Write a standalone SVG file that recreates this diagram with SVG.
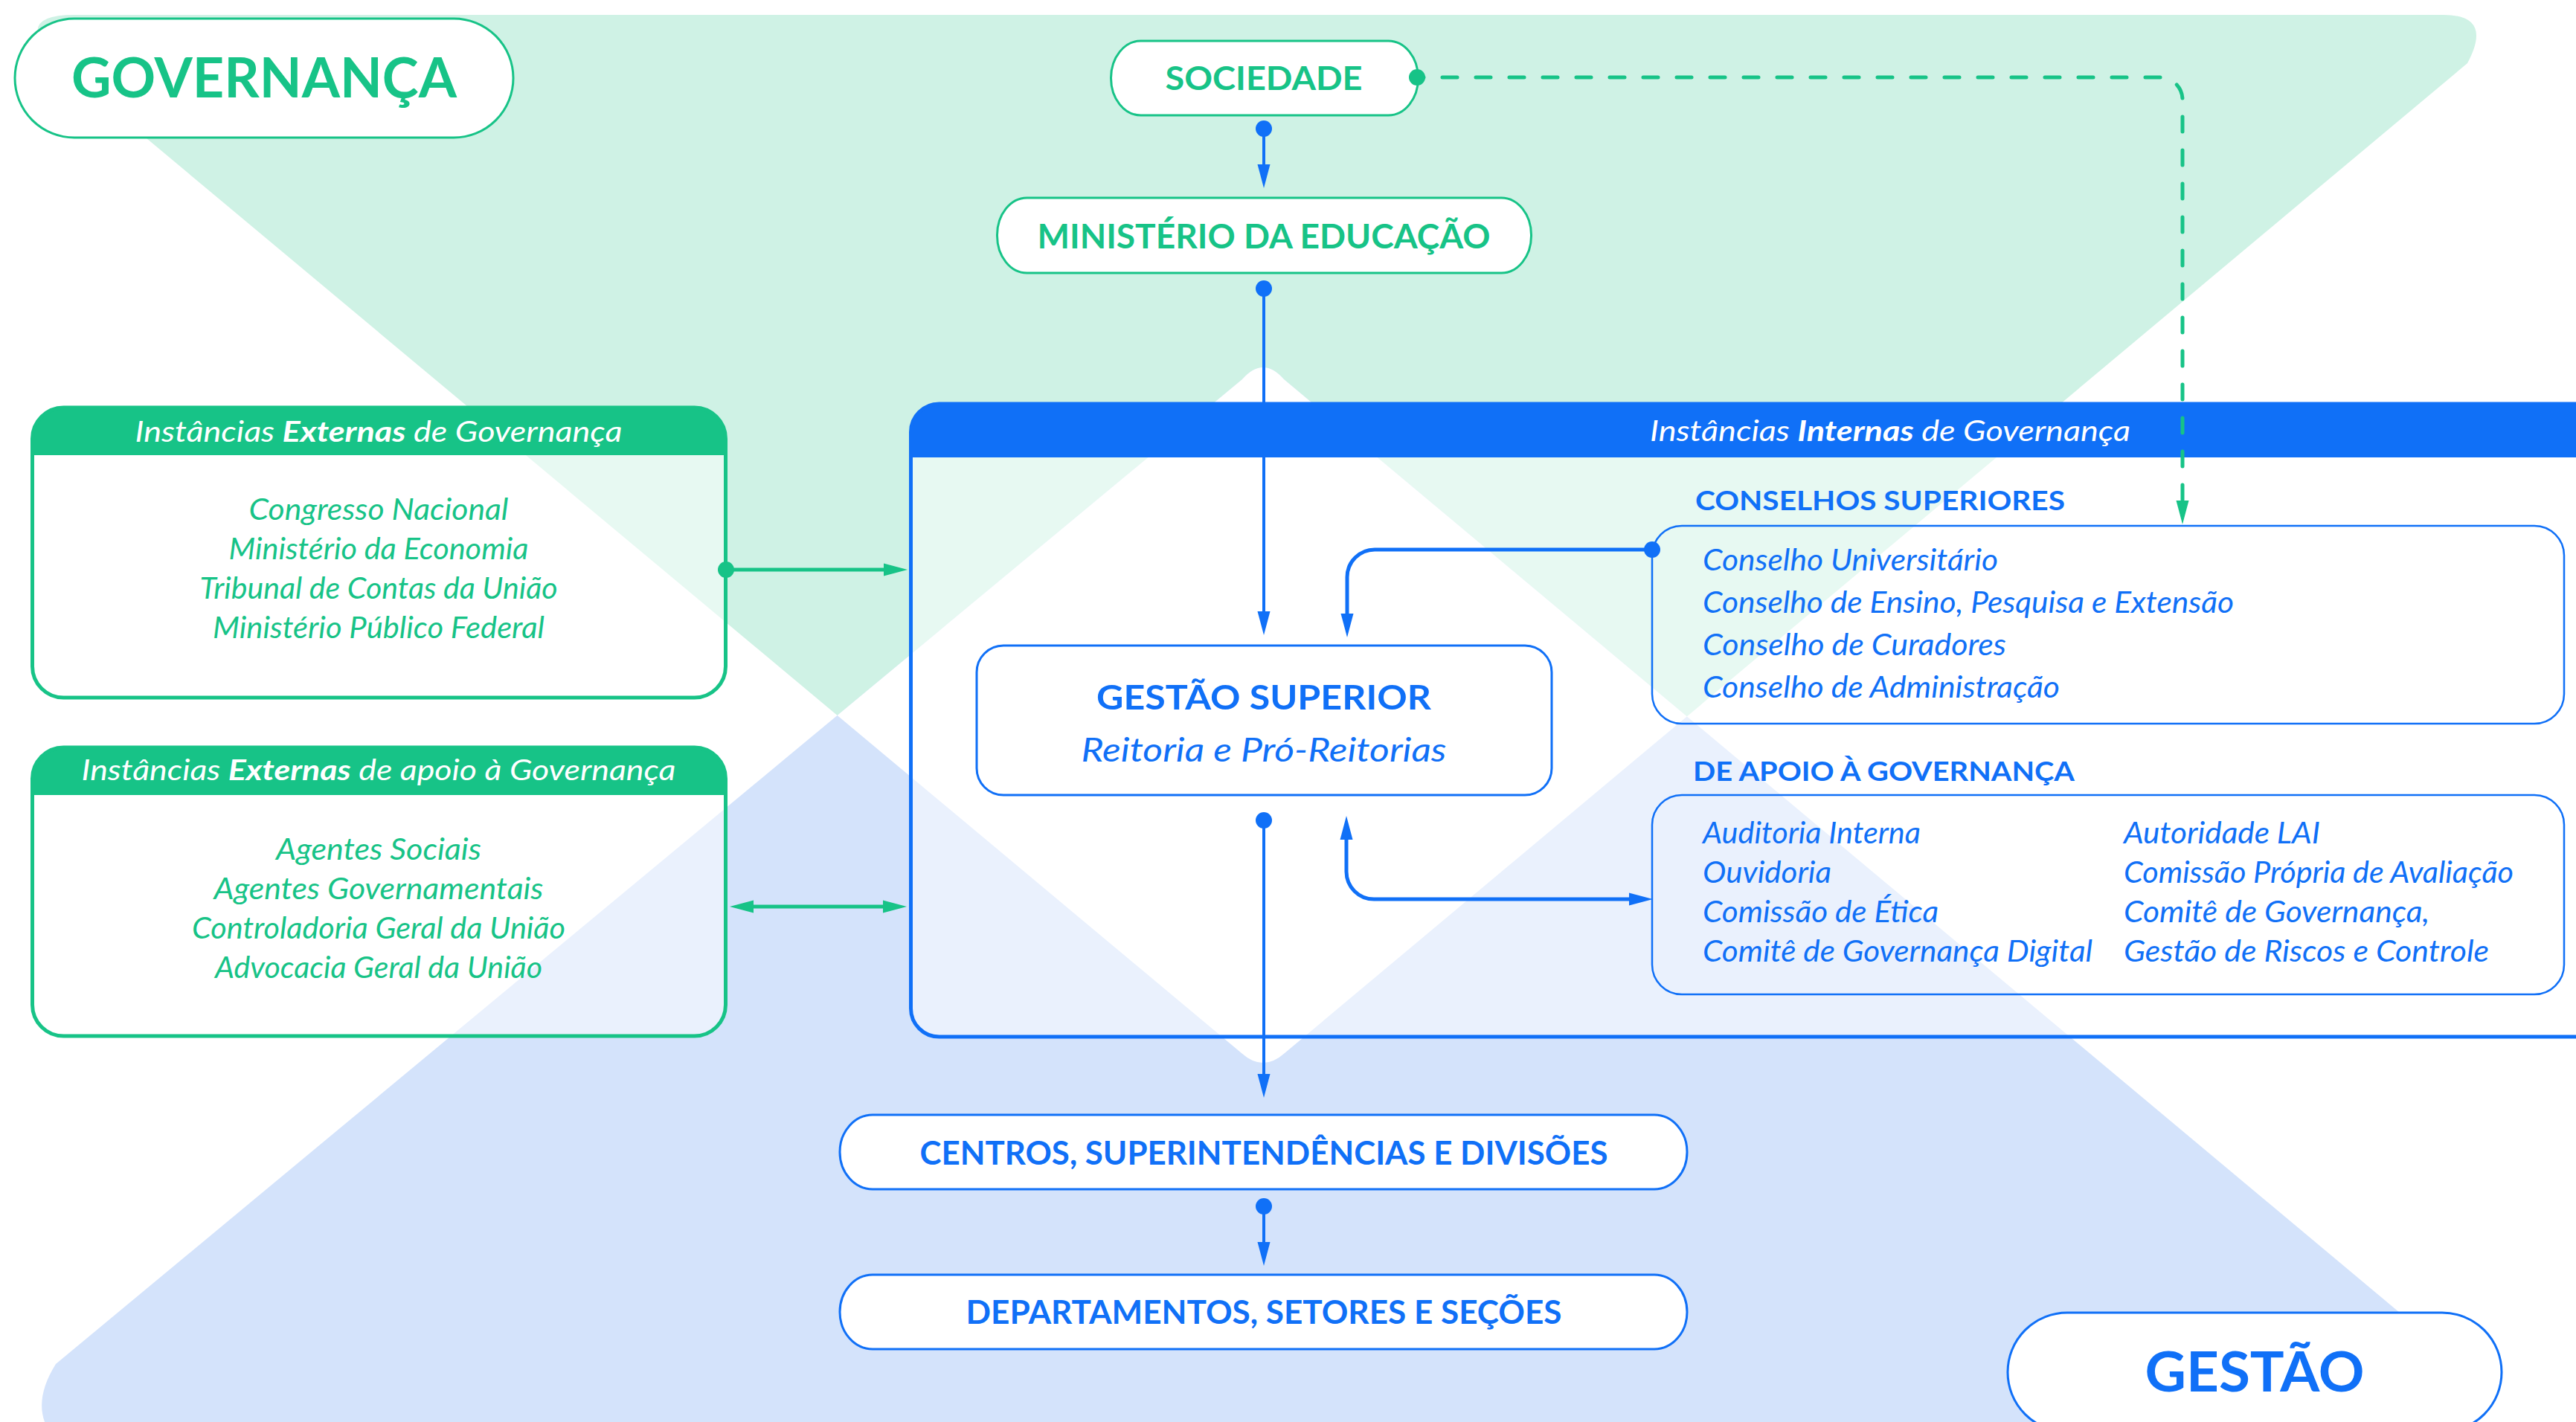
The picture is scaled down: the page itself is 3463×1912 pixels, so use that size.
<svg xmlns="http://www.w3.org/2000/svg" width="3463" height="1912" viewBox="0 0 3463 1912">
<defs>
<style>
.t{font-family:Lato,"Open Sans","Liberation Sans",sans-serif}
.b{font-weight:700}
.i{font-style:italic}
.g{fill:#17C387}
.bl{fill:#1070F7}
.w{fill:#fff}
.mid{text-anchor:middle}
.body{font-size:40px}
.pillG{fill:#fff;stroke:#17C387;stroke-width:3}
.pillB{fill:#fff;stroke:#1070F7;stroke-width:3}
.thinB{fill:none;stroke:#1070F7;stroke-width:2.5}
.cb{fill:none;stroke:#1070F7;stroke-width:4}
.cb5{fill:none;stroke:#1070F7;stroke-width:5}
.cg{fill:none;stroke:#17C387;stroke-width:5}
.dash{fill:none;stroke:#17C387;stroke-width:5;stroke-linecap:round;stroke-dasharray:20 25;stroke-dashoffset:11}
.veil{fill:#fff;fill-opacity:0.5}
</style>
<path id="greenTri" d="M100,20 H3285 Q3352,20 3317,85 L1727,1416 Q1698,1442 1669,1416 L106,110 Q-2,20 100,20 Z"/>
<path id="blueTri" d="M1670,510 Q1698,478 1726,510 L3330,1852 Q3360,1900 3300,1930 H70 Q40,1890 75,1834 Z"/>
<clipPath id="gclip"><use href="#greenTri"/></clipPath>
<marker id="ab" markerUnits="userSpaceOnUse" markerWidth="32" markerHeight="17" refX="0" refY="8.5" orient="auto-start-reverse" viewBox="0 0 32 17" overflow="visible"><path d="M0,0 L32,8.5 L0,17 Z" fill="#1070F7"/></marker>
<marker id="ag" markerUnits="userSpaceOnUse" markerWidth="32" markerHeight="17" refX="0" refY="8.5" orient="auto-start-reverse" viewBox="0 0 32 17" overflow="visible"><path d="M0,0 L32,8.5 L0,17 Z" fill="#17C387"/></marker>
</defs>

<g id="background">
<rect width="3463" height="1912" fill="#fff"/>
<use href="#greenTri" fill="#CFF2E5"/>
<use href="#blueTri" fill="#D4E3FB"/>
<use href="#blueTri" fill="#fff" clip-path="url(#gclip)"/>
</g>

<g id="governanca">
<rect class="pillG" x="20" y="25" width="670" height="160" rx="80" ry="80"/>
<text class="t b g mid" x="355" y="131" font-size="74" textLength="518" lengthAdjust="spacingAndGlyphs">GOVERNANÇA</text>
</g>

<g id="externas">
<rect class="veil" x="43.5" y="548" width="932" height="390" rx="42"/>
<path d="M43.5,612 V590 A42,42 0 0 1 85.5,548 H933.5 A42,42 0 0 1 975.5,590 V612 Z" fill="#17C387"/>
<rect x="43.5" y="548" width="932" height="390" rx="42" fill="none" stroke="#17C387" stroke-width="5"/>
<text class="t i w mid" x="509" y="594" font-size="38" textLength="655" lengthAdjust="spacingAndGlyphs">Instâncias <tspan class="b">Externas</tspan> de Governança</text>
<text class="t i g mid body" x="509" y="699" textLength="349" lengthAdjust="spacingAndGlyphs">Congresso Nacional</text>
<text class="t i g mid body" x="509" y="752" textLength="403" lengthAdjust="spacingAndGlyphs">Ministério da Economia</text>
<text class="t i g mid body" x="509" y="805" textLength="481" lengthAdjust="spacingAndGlyphs">Tribunal de Contas da União</text>
<text class="t i g mid body" x="509" y="858" textLength="446" lengthAdjust="spacingAndGlyphs">Ministério Público Federal</text>
</g>

<g id="externas-apoio">
<rect class="veil" x="43.5" y="1005" width="932" height="388" rx="42"/>
<path d="M43.5,1069 V1047 A42,42 0 0 1 85.5,1005 H933.5 A42,42 0 0 1 975.5,1047 V1069 Z" fill="#17C387"/>
<rect x="43.5" y="1005" width="932" height="388" rx="42" fill="none" stroke="#17C387" stroke-width="5"/>
<text class="t i w mid" x="509" y="1049" font-size="38" textLength="799" lengthAdjust="spacingAndGlyphs">Instâncias <tspan class="b">Externas</tspan> de apoio à Governança</text>
<text class="t i g mid body" x="509" y="1156" textLength="276" lengthAdjust="spacingAndGlyphs">Agentes Sociais</text>
<text class="t i g mid body" x="509" y="1209" textLength="443" lengthAdjust="spacingAndGlyphs">Agentes Governamentais</text>
<text class="t i g mid body" x="509" y="1262" textLength="502" lengthAdjust="spacingAndGlyphs">Controladoria Geral da União</text>
<text class="t i g mid body" x="509" y="1315" textLength="440" lengthAdjust="spacingAndGlyphs">Advocacia Geral da União</text>
</g>

<g id="internas">
<rect class="veil" x="1224.5" y="543" width="2400" height="851" rx="38"/>
<path d="M1224.5,615 V581 A38,38 0 0 1 1262.5,543 H3640 V615 Z" fill="#1070F7"/>
<rect x="1224.5" y="543" width="2400" height="851" rx="38" fill="none" stroke="#1070F7" stroke-width="5"/>
<text class="t i w mid" x="2541" y="593" font-size="38" textLength="646" lengthAdjust="spacingAndGlyphs">Instâncias <tspan class="b">Internas</tspan> de Governança</text>
</g>

<g id="sociedade">
<rect class="pillG" x="1493.5" y="55" width="413" height="100" rx="40" ry="50"/>
<text class="t b g mid" x="1699" y="121" font-size="44" textLength="265" lengthAdjust="spacingAndGlyphs">SOCIEDADE</text>
</g>

<g id="mec">
<rect class="pillG" x="1340.5" y="266" width="718" height="101" rx="40" ry="50"/>
<text class="t b g mid" x="1699" y="334" font-size="45" textLength="609" lengthAdjust="spacingAndGlyphs">MINISTÉRIO DA EDUCAÇÃO</text>
</g>

<g id="gestao-superior">
<rect class="pillB" x="1313" y="868" width="773" height="201" rx="36"/>
<text class="t b bl mid" x="1699" y="954" font-size="46" textLength="450" lengthAdjust="spacingAndGlyphs">GESTÃO SUPERIOR</text>
<text class="t i bl mid" x="1699" y="1024" font-size="44" textLength="491" lengthAdjust="spacingAndGlyphs">Reitoria e Pró-Reitorias</text>
</g>

<g id="conselhos">
<text class="t b bl" x="2279" y="686" font-size="36" textLength="497" lengthAdjust="spacingAndGlyphs">CONSELHOS SUPERIORES</text>
<rect class="thinB" x="2221" y="707" width="1226" height="266" rx="40"/>
<text class="t i bl body" x="2289" y="767" textLength="397" lengthAdjust="spacingAndGlyphs">Conselho Universitário</text>
<text class="t i bl body" x="2289" y="824" textLength="714" lengthAdjust="spacingAndGlyphs">Conselho de Ensino, Pesquisa e Extensão</text>
<text class="t i bl body" x="2289" y="881" textLength="408" lengthAdjust="spacingAndGlyphs">Conselho de Curadores</text>
<text class="t i bl body" x="2289" y="938" textLength="480" lengthAdjust="spacingAndGlyphs">Conselho de Administração</text>
</g>

<g id="apoio">
<text class="t b bl" x="2276" y="1050" font-size="36" textLength="513" lengthAdjust="spacingAndGlyphs">DE APOIO À GOVERNANÇA</text>
<rect class="thinB" x="2221" y="1069" width="1226" height="268" rx="40"/>
<text class="t i bl body" x="2289" y="1134" textLength="293" lengthAdjust="spacingAndGlyphs">Auditoria Interna</text>
<text class="t i bl body" x="2289" y="1187" textLength="173" lengthAdjust="spacingAndGlyphs">Ouvidoria</text>
<text class="t i bl body" x="2289" y="1240" textLength="317" lengthAdjust="spacingAndGlyphs">Comissão de Ética</text>
<text class="t i bl body" x="2289" y="1293" textLength="524" lengthAdjust="spacingAndGlyphs">Comitê de Governança Digital</text>
<text class="t i bl body" x="2855" y="1134" textLength="264" lengthAdjust="spacingAndGlyphs">Autoridade LAI</text>
<text class="t i bl body" x="2855" y="1187" textLength="524" lengthAdjust="spacingAndGlyphs">Comissão Própria de Avaliação</text>
<text class="t i bl body" x="2855" y="1240" textLength="411" lengthAdjust="spacingAndGlyphs">Comitê de Governança,</text>
<text class="t i bl body" x="2855" y="1293" textLength="491" lengthAdjust="spacingAndGlyphs">Gestão de Riscos e Controle</text>
</g>

<g id="centros">
<rect class="pillB" x="1129" y="1499" width="1139" height="100" rx="44" ry="50"/>
<text class="t b bl mid" x="1699" y="1566" font-size="43" textLength="925" lengthAdjust="spacingAndGlyphs">CENTROS, SUPERINTENDÊNCIAS E DIVISÕES</text>
</g>

<g id="departamentos">
<rect class="pillB" x="1129" y="1714" width="1139" height="100" rx="44" ry="50"/>
<text class="t b bl mid" x="1699" y="1780" font-size="43" textLength="801" lengthAdjust="spacingAndGlyphs">DEPARTAMENTOS, SETORES E SEÇÕES</text>
</g>

<g id="gestao">
<rect class="pillB" x="2699" y="1765" width="664" height="160" rx="80" ry="80"/>
<text class="t b bl mid" x="3031" y="1871" font-size="74" textLength="295" lengthAdjust="spacingAndGlyphs">GESTÃO</text>
</g>

<g id="connectors">
<path class="dash" d="M1905,104 H2904 A30,30 0 0 1 2934,134 V673" marker-end="url(#ag)"/>
<circle cx="1905" cy="104" r="11" fill="#17C387"/>
<path class="cb" d="M1699,173 V221" marker-end="url(#ab)"/>
<circle cx="1699" cy="173" r="11" fill="#1070F7"/>
<path class="cb" d="M1699,388 V822" marker-end="url(#ab)"/>
<circle cx="1699" cy="388" r="11" fill="#1070F7"/>
<path class="cg" d="M976,766 H1188" marker-end="url(#ag)"/>
<circle cx="976" cy="766" r="11" fill="#17C387"/>
<path class="cg" d="M1013,1219 H1187" marker-start="url(#ag)" marker-end="url(#ag)"/>
<path class="cb5" d="M2221,739 H1848 A37,37 0 0 0 1811,776 V825" marker-end="url(#ab)"/>
<circle cx="2221" cy="739" r="11" fill="#1070F7"/>
<path class="cb5" d="M1810,1129 V1172 A37,37 0 0 0 1847,1209 H2190" marker-start="url(#ab)" marker-end="url(#ab)"/>
<path class="cb" d="M1699,1103 V1444" marker-end="url(#ab)"/>
<circle cx="1699" cy="1103" r="11" fill="#1070F7"/>
<path class="cb" d="M1699,1622 V1670" marker-end="url(#ab)"/>
<circle cx="1699" cy="1622" r="11" fill="#1070F7"/>
</g>
</svg>
